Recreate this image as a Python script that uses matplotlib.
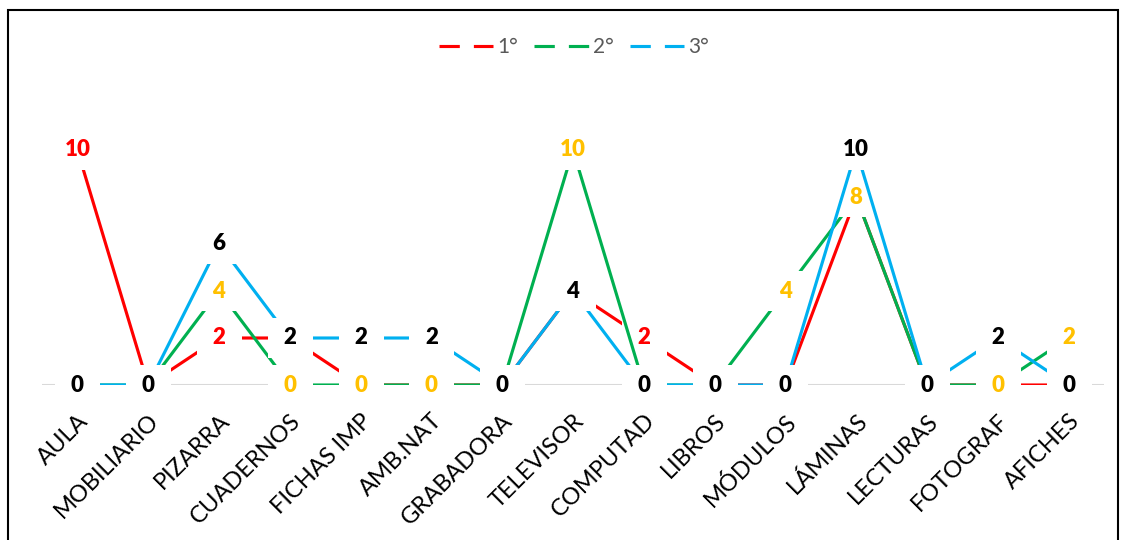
import numpy as np
import matplotlib
matplotlib.use("Agg")
import matplotlib.pyplot as plt
from matplotlib.lines import Line2D
from matplotlib.patches import Rectangle

plt.rcParams['font.family'] = ['Lato', 'DejaVu Sans']

categorias = ['AULA', 'MOBILIARIO', 'PIZARRA', 'CUADERNOS', 'FICHAS IMP', 'AMB.NAT',
              'GRABADORA', 'TELEVISOR', 'COMPUTAD', 'LIBROS', 'MÓDULOS', 'LÁMINAS',
              'LECTURAS', 'FOTOGRAF', 'AFICHES']
grado1 = [10, 0, 2, 2, 0, 0, 0, 4, 2, 0, 0, 8, 0, 0, 0]
grado2 = [0, 0, 4, 0, 0, 0, 0, 10, 0, 0, 4, 8, 0, 0, 2]
grado3 = [0, 0, 6, 2, 2, 2, 0, 4, 0, 0, 0, 10, 0, 2, 0]
nombres = ['1°', '2°', '3°']

colores_linea = ['#FF0000', '#00B050', '#00B0F0']
colores_etiqueta = ['#FF0000', '#FFC000', '#000000']

fig = plt.figure(figsize=(11.22, 5.40), dpi=100)
ax = fig.add_axes([42 / 1122, (540 - 385) / 540, 1062 / 1122, 282 / 540])

x = np.arange(len(categorias))
series = [grado1, grado2, grado3]

# linea base gris
ax.axhline(0, color='#D9D9D9', lw=1.5, zorder=1)

# cada serie: linea y luego sus etiquetas con fondo blanco
px = 72 / 100
for k, (s, col, col_et) in enumerate(zip(series, colores_linea, colores_etiqueta)):
    z = 10 * (k + 1)
    ax.plot(x, s, color=col, lw=2.25, zorder=z, solid_capstyle='butt')
    for xi, v in zip(x, s):
        txt = str(v)
        ancho = 34 + 11 * len(txt)
        alto = 40
        caja = [(-1, -alto / ancho), (1, -alto / ancho), (1, alto / ancho),
                (-1, alto / ancho), (-1, -alto / ancho)]
        ax.plot(xi, v, marker=caja, markersize=ancho * px, color='white',
                markeredgewidth=0, linestyle='none', zorder=z + 1,
                clip_on=False)
        ax.text(xi, v, txt, ha='center', va='center', fontsize=16,
                fontweight='heavy', color=col_et, zorder=z + 2, clip_on=False)

ax.set_xlim(-0.5, len(categorias) - 0.5)
ax.set_ylim(0, 12)
ax.set_xticks(x)
ax.set_xticklabels(categorias, rotation=45, ha='right', rotation_mode='anchor',
                   fontsize=17)
ax.tick_params(axis='x', length=0, pad=18)
ax.set_yticks([])
for sp in ax.spines.values():
    sp.set_visible(False)

handles = [Line2D([0], [0], color=c, lw=2.25, linestyle=(0, (6.5, 4.5)))
           for c in colores_linea]
leg = fig.legend(handles, nombres, loc='center', ncol=3, frameon=False,
                 bbox_to_anchor=(574 / 1122, 1 - 47 / 540), fontsize=15,
                 handlelength=2.6, handletextpad=0.2, columnspacing=0.8)
for t in leg.get_texts():
    t.set_color('#595959')

# borde del grafico
fig.patches.append(Rectangle((8 / 1122, -0.05), 1110 / 1122, 1.05 - 10 / 540,
                             transform=fig.transFigure, fill=False,
                             ec='#000000', lw=1.5))

fig.savefig('out.png', dpi=100)
